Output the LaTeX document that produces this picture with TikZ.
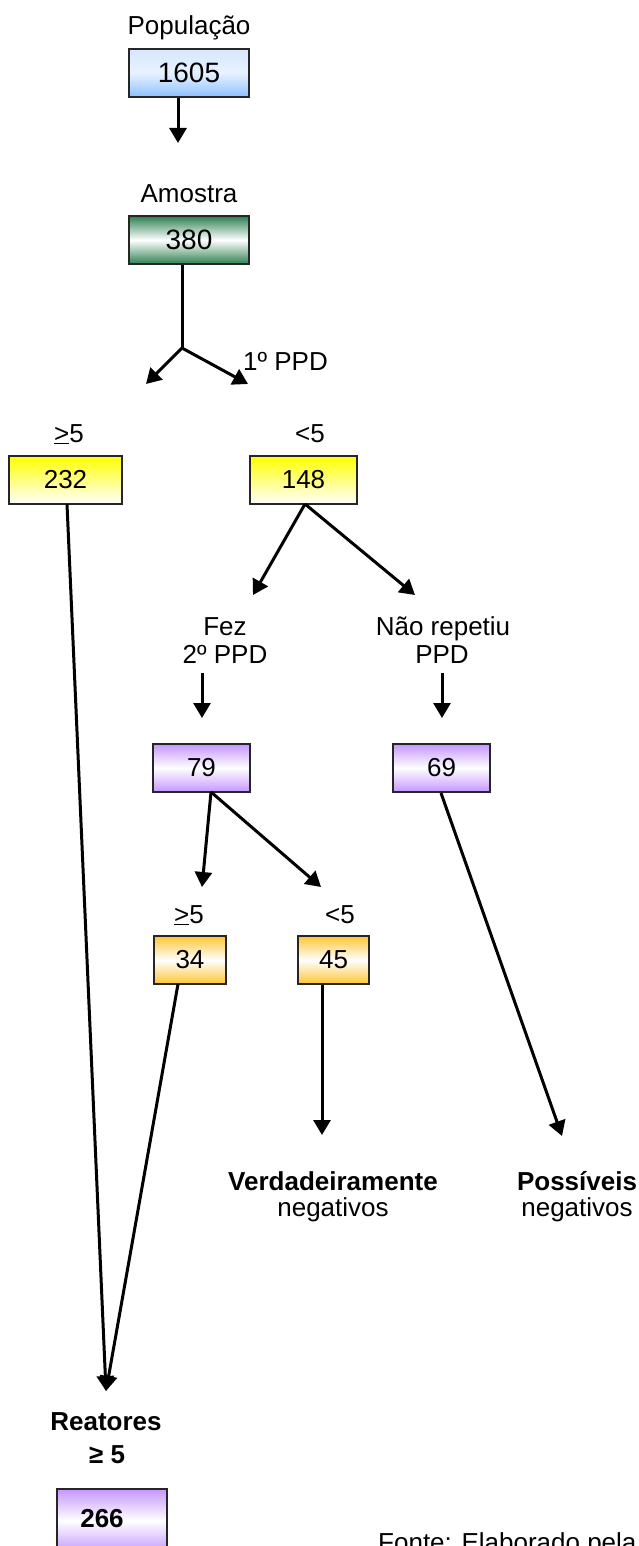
\documentclass[tikz,border=0pt]{standalone}
\usepackage{fontspec}
\setmainfont{Liberation Sans}
\usetikzlibrary{arrows.meta}
\definecolor{popblue}{RGB}{140,192,255}
\definecolor{popbluetop}{RGB}{214,232,255}
\definecolor{amgreen}{RGB}{46,128,82}
\definecolor{ppdyellow}{RGB}{255,255,0}
\definecolor{ppdpurple}{RGB}{196,150,255}
\definecolor{ppdorange}{RGB}{255,196,50}
\begin{document}
\begin{tikzpicture}[x=1pt,y=-1pt,
  font=\fontsize{26}{29}\selectfont,
  box/.style={draw=black!85, line width=1.6pt, minimum height=48pt, inner sep=0pt},
  bigtext/.style={font=\fontsize{28}{30}\selectfont},
  bluebox/.style={box, top color=popbluetop, bottom color=popblue, middle color=white!80!popblue},
  greenbox/.style={box, top color=amgreen, bottom color=amgreen, middle color=white},
  yellowbox/.style={box, top color=ppdyellow, bottom color=white},
  purplebox/.style={box, top color=ppdpurple, bottom color=ppdpurple, middle color=white},
  orangebox/.style={box, top color=ppdorange, bottom color=ppdorange, middle color=white},
  lbl/.style={anchor=base, inner sep=0pt},
  arr/.style={line width=3pt, -{Triangle[width=17pt,length=15pt]}},
  ln/.style={line width=3pt}
]
\useasboundingbox (0,0) rectangle (638,1546);
\clip (0,0) rectangle (638,1546);

% population and sample
\node[lbl] (tpop) at (189,35) {População};
\node[bluebox, bigtext, minimum width=120pt] (b1605) at (189,73) {1605};
\node[lbl] (tam) at (189,203) {Amostra};
\node[greenbox, bigtext, minimum width=120pt] (b380) at (189,240) {380};

\coordinate (t1) at (178,143);
\draw[arr] (b1605.south -| t1) -- (t1);

% first PPD split
\coordinate (jn) at (182,348);
\coordinate (t2) at (146,384);
\coordinate (t3) at (248,384);
\draw[ln] (b380.south -| jn) -- (jn);
\draw[arr] (jn) -- (t2);
\draw[arr] (jn) -- (t3);
\node[lbl, anchor=base west] (tppd1) at (243,370) {1º PPD};

\node[lbl] (tge1) at (69,442) {\underline{>}5};
\node[lbl] (tlt1) at (310,442) {<5};
\node[yellowbox, minimum width=113pt] (b232) at (65.5,480) {232};
\node[yellowbox, minimum width=107pt] (b148) at (303.5,480) {148};

% branches of 148
\coordinate (s148) at (305,504);
\coordinate (t4) at (253,595);
\coordinate (t5) at (415,595);
\draw[arr] (s148) -- (t4);
\draw[arr] (s148) -- (t5);

\node[lbl] (tfez) at (225,635) {Fez};
\node[lbl] (tfez2) at (225,663) {2º PPD};
\node[lbl] (tnr) at (443,635) {Não repetiu};
\node[lbl] (tnr2) at (442,663) {PPD};

\coordinate (t6) at (202,718);
\coordinate (t7) at (442,718);
\draw[arr] (202,673) -- (t6);
\draw[arr] (442,673) -- (t7);

\node[purplebox, minimum width=97pt] (b79) at (201.5,768) {79};
\node[purplebox, minimum width=97pt] (b69) at (441.5,768) {69};

% second PPD split
\coordinate (s79) at (211,792);
\coordinate (t8) at (202,887);
\coordinate (t9) at (321,887);
\draw[arr] (s79) -- (t8);
\draw[arr] (s79) -- (t9);

\node[lbl] (tge2) at (189,923) {\underline{>}5};
\node[lbl] (tlt2) at (340,923) {<5};
\node[orangebox, minimum width=72pt] (b34) at (190,960) {34};
\node[orangebox, minimum width=71pt] (b45) at (333.5,960) {45};

% outcomes
\coordinate (t10) at (322,1135);
\coordinate (t11) at (562,1136);
\draw[arr] (b45.south -| t10) -- (t10);
\draw[arr] (441,793) -- (t11);

\node[lbl] (tvn) at (333,1190) {\textbf{Verdadeiramente}};
\node[lbl] (tvn2) at (333,1216) {negativos};
\node[lbl] (tpn) at (577,1190) {\textbf{Possíveis}};
\node[lbl] (tpn2) at (577,1216) {negativos};

\coordinate (t12) at (106,1391);
\draw[arr] (67,504) -- (t12);
\draw[arr] (178,984) -- (t12);

\node[lbl] (trea) at (106,1430) {\textbf{Reatores}};
\node[lbl] (trea2) at (107,1463) {\textbf{≥ 5}};
\node[purplebox, minimum width=110pt, minimum height=64pt, anchor=north] (b266) at (112,1488) {};
\node[lbl] (t266) at (102,1527) {\textbf{266}};

\node[lbl, anchor=base west] (tfonte) at (378,1551) {Fonte: Elaborado pela};
\end{tikzpicture}
\end{document}
